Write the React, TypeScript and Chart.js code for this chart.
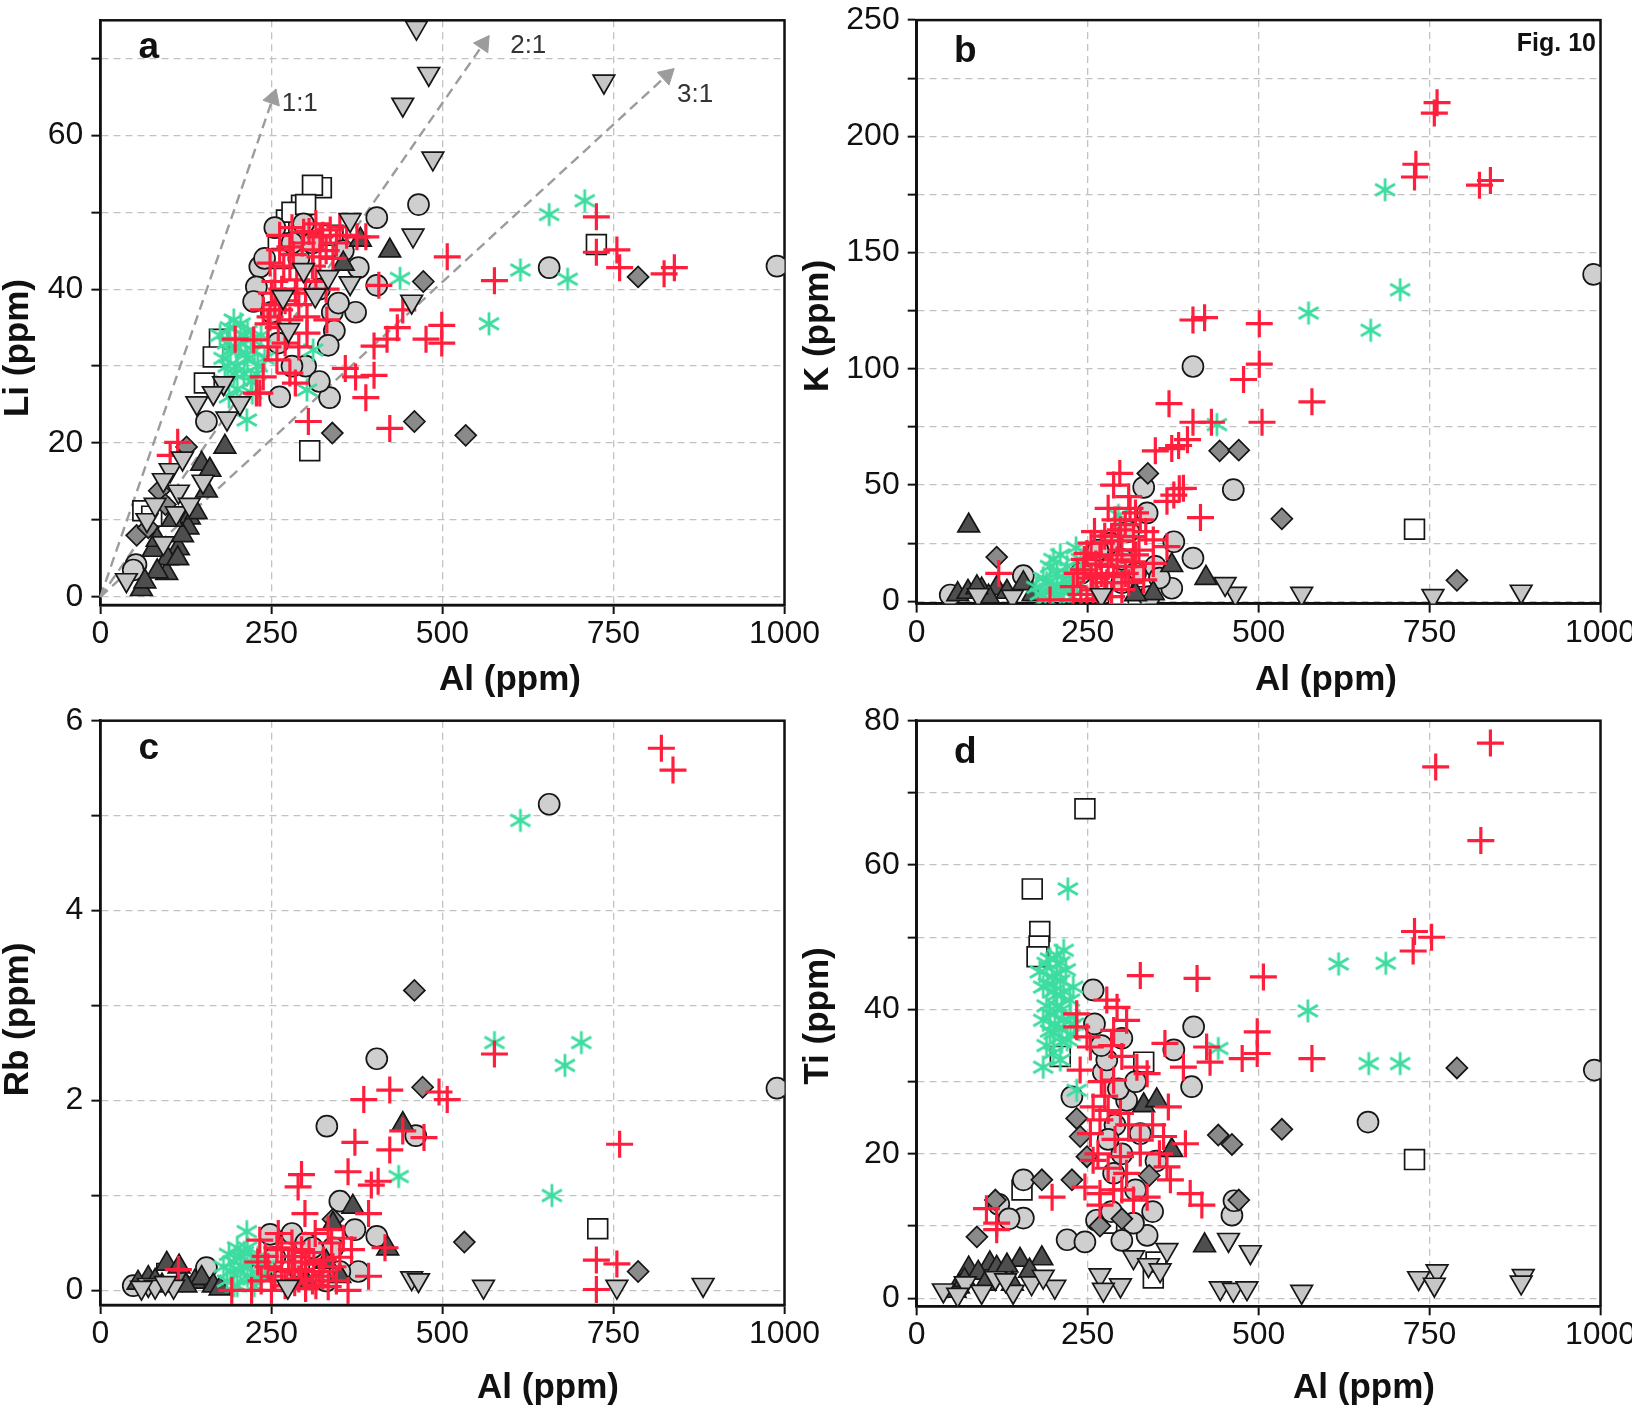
import React, { useEffect, useRef } from 'react';
import { Chart, registerables } from 'chart.js';

Chart.register(...registerables);

type P = [number, number];

// ---------- axis ticks ----------
const alTicks = [0, 250, 500, 750, 1000];
const liTicks = [0, 10, 20, 30, 40, 50, 60, 70];
const liLabels = [0, 20, 40, 60];
const kTicks = [0, 25, 50, 75, 100, 125, 150, 175, 200, 225, 250];
const kLabels = [0, 50, 100, 150, 200, 250];
const rbTicks = [0, 1, 2, 3, 4, 5, 6];
const rbLabels = [0, 2, 4, 6];
const tiTicks = [0, 10, 20, 30, 40, 50, 60, 70, 80];
const tiLabels = [0, 20, 40, 60, 80];

// ---------- panel a : Li vs Al ----------
const aSquare: P[] = [[323, 53.2], [310, 53.5], [294, 50.9], [272, 49], [272, 47.5], [290, 48], [340, 47], [260, 46], [280, 50], [300, 51], [265, 44], [725, 45.8], [306, 19], [174, 33.5], [165, 31.2], [152, 27.8], [62, 11.2], [75, 10.5]];
const aCircle: P[] = [[465, 51], [404, 49.3], [989, 43], [656, 42.8], [339, 37], [373, 37], [342, 34.6], [335, 25.9], [262, 26], [155, 22.8], [404, 40.5], [377, 42.8], [233, 42.9], [228, 40.3], [348, 38.2], [333, 32.7], [297, 48.5], [224, 38.4], [52, 4.2], [48, 3.5], [290, 44], [310, 46], [250, 37], [300, 30], [320, 28], [240, 44], [255, 48], [280, 46], [320, 40], [260, 33], [280, 30], [355, 45]];
const aDownTri: P[] = [[462, 74], [480, 68], [442, 64], [736, 67], [486, 57], [457, 47], [365, 49], [297, 42.5], [333, 41.6], [365, 40.8], [267, 39], [314, 39.2], [455, 38.4], [275, 34.7], [180, 27.8], [165, 26.5], [141, 25.2], [204, 25.2], [185, 23.2], [102, 16.5], [114, 13.7], [150, 15], [92, 15.2], [68, 10], [111, 10.9], [92, 7], [38, 2.2], [120, 18], [80, 12], [130, 12]];
const aUpTri: P[] = [[423, 45], [380, 46.4], [355, 43.3], [182, 19.5], [148, 17.3], [160, 16.5], [155, 13.8], [130, 10.3], [128, 9], [114, 6.3], [77, 6.1], [97, 3.1], [60, 1], [83, 7.4], [98, 5], [113, 5], [83, 3.3], [65, 2], [140, 11], [120, 8], [105, 10]];
const aDiamond: P[] = [[472, 41], [786, 41.6], [534, 21], [459, 22.8], [339, 21.3], [126, 19.5], [86, 13.8], [53, 8], [95, 12], [70, 9]];
const aCross: P[] = [[725, 49.4], [725, 44.8], [755, 45.1], [759, 42.8], [824, 42], [839, 42.8], [507, 44.2], [576, 41.1], [407, 40.5], [442, 37.3], [434, 35], [419, 33.5], [400, 32.6], [476, 33.5], [499, 35.3], [499, 33], [358, 29.7], [373, 28.6], [388, 25.9], [400, 28.8], [423, 21.9], [304, 22.8], [113, 20.1], [102, 18.4], [228, 26.5], [197, 33.5], [388, 46.8], [297, 47.4], [321, 46.8], [336, 47.7], [350, 48.1], [375, 46.8], [277, 45.5], [262, 45.1], [248, 43.4], [277, 42.9], [311, 45.1], [321, 44.2], [287, 41.2], [238, 37.3], [248, 36.4], [262, 37.3], [277, 36], [302, 36.4], [331, 36], [302, 34.3], [224, 33.4], [245, 32.5], [258, 30.8], [238, 28.6], [277, 29.1], [285, 27.8], [233, 26.5], [255, 38], [265, 40], [290, 38], [310, 43], [330, 45], [340, 44], [255, 41], [268, 43], [282, 44.5], [295, 46], [305, 47.5], [315, 48.5], [325, 47], [345, 46], [360, 47], [250, 39.5], [270, 38.5], [285, 39.5], [300, 40], [245, 35.5], [260, 35], [270, 33], [290, 32.5], [315, 41], [330, 40], [262, 47], [280, 48]];
const aStar: P[] = [[708, 51.5], [656, 49.7], [614, 42.5], [683, 41.3], [568, 35.5], [438, 41.4], [311, 32.1], [302, 26.9], [214, 23], [189, 35], [180, 31], [190, 32], [200, 30], [205, 33], [210, 29], [215, 31], [220, 28], [195, 29], [185, 33], [225, 32], [230, 30], [200, 27], [210, 34], [235, 34], [175, 34], [182, 28], [188, 26], [195, 36], [205, 35.5], [215, 34.5], [220, 33.5], [228, 29], [240, 31], [198, 32.5], [212, 31.5], [186, 30], [222, 26.5]];
const ratioEnds: P[] = [[252, 64.8], [560, 71.9], [828, 67.8]];
const ratioNames = ['1:1', '2:1', '3:1'];
const ratioLabelPos: P[] = [[265, 63.1], [599, 70.7], [843, 64.3]];

// ---------- panel b : K vs Al ----------
const bSquare: P[] = [[728, 31], [320, 2], [295, 1]];
const bCircle: P[] = [[990, 140.6], [404, 101], [463, 48], [332, 49], [404, 18.6], [376, 25.6], [373, 5.6], [349, 15], [156, 11], [49, 2.7], [337, 38], [283, 25], [300, 18], [320, 12], [260, 20], [310, 30], [240, 12], [300, 8], [340, 2], [265, 22], [355, 10]];
const bDownTri: P[] = [[466, 3.3], [451, 7.5], [563, 3.3], [755, 2.3], [884, 4.2], [270, 2.7], [90, 2.7], [140, 2]];
const bUpTri: P[] = [[76, 32.5], [423, 10], [373, 15.5], [60, 3], [75, 4], [95, 5], [117, 5.6], [132, 4], [156, 7.7], [346, 3.4], [105, 2], [170, 3], [88, 6], [320, 3]];
const bDiamond: P[] = [[338, 55], [443, 64.7], [471, 65], [534, 35.5], [790, 9], [117, 19]];
const bCross: P[] = [[761, 214.5], [757, 210], [730, 188], [728, 182.5], [823, 179], [839, 181], [421, 122], [404, 121], [501, 119.4], [501, 102], [478, 95.4], [578, 85.8], [505, 77], [369, 85], [404, 77], [431, 77], [396, 69.5], [373, 65.7], [349, 64.7], [415, 36], [384, 48.4], [366, 43], [297, 55], [288, 50], [280, 40], [383, 67], [390, 48.6], [376, 45.7], [312, 40], [327, 35], [298, 30.7], [317, 27.8], [346, 26.4], [366, 23.5], [249, 20.6], [268, 19.2], [293, 17.8], [244, 13.5], [263, 10.6], [288, 10.6], [317, 14.9], [332, 9.2], [229, 6.3], [258, 4.9], [195, 0.6], [229, 0.6], [249, 0.5], [120, 12], [346, 16.3], [270, 25], [300, 22], [320, 20], [280, 15], [305, 33], [255, 10], [275, 5], [310, 8], [235, 12], [245, 18], [255, 25], [262, 16], [270, 12], [278, 8], [285, 20], [295, 26], [305, 12], [315, 17], [325, 22], [335, 30], [240, 3], [265, 1], [285, 2], [300, 5], [320, 38], [310, 45], [290, 35], [275, 28], [260, 30], [285, 28]];
const bStar: P[] = [[685, 177], [707, 134], [573, 124], [664, 116.6], [439, 76], [295, 37], [233, 23], [180, 3], [190, 8], [200, 5], [205, 12], [210, 2], [215, 9], [220, 15], [195, 15], [185, 10], [225, 6], [200, 18], [210, 20], [230, 10], [240, 18], [215, 4], [175, 6], [188, 1], [205, 7], [218, 12], [228, 2], [195, 4], [235, 8], [245, 13]];

// ---------- panel c : Rb vs Al ----------
const cSquare: P[] = [[727, 0.65], [97, 0.18]];
const cCircle: P[] = [[656, 5.12], [404, 2.44], [331, 1.73], [461, 1.63], [989, 2.13], [350, 0.94], [372, 0.64], [404, 0.57], [377, 0.2], [155, 0.24], [48, 0.05], [248, 0.59], [280, 0.6], [300, 0.5], [320, 0.35], [265, 0.1], [340, 0.45], [330, 0.1], [255, 0.35], [290, 0.25], [310, 0.45], [350, 0.2], [235, 0.2]];
const cDownTri: P[] = [[274, 0.04], [455, 0.13], [465, 0.11], [560, 0.04], [755, 0.04], [881, 0.06], [70, 0.06], [80, 0.04], [107, 0.04], [95, 0.08], [60, 0.03]];
const cUpTri: P[] = [[442, 1.75], [420, 0.44], [369, 0.88], [70, 0.13], [97, 0.28], [138, 0.09], [148, 0.13], [55, 0.08], [80, 0.1], [115, 0.25], [125, 0.05], [165, 0.05], [90, 0.05], [340, 0.7], [300, 0.1], [330, 0.3], [350, 0.15], [175, 0.02]];
const cDiamond: P[] = [[459, 3.16], [471, 2.14], [532, 0.51], [786, 0.2], [340, 0.75], [120, 0.1]];
const cCross: P[] = [[820, 5.71], [837, 5.48], [576, 2.49], [495, 2.09], [507, 2.01], [423, 2.11], [385, 2.01], [759, 1.54], [473, 1.61], [372, 1.56], [423, 1.48], [442, 1.68], [294, 1.22], [289, 1.09], [362, 1.25], [406, 1.15], [396, 1.11], [392, 0.81], [299, 0.81], [416, 0.45], [725, 0.32], [755, 0.28], [725, 0.01], [233, 0.53], [314, 0.6], [333, 0.64], [367, 0.43], [392, 0.15], [192, 0.0], [221, 0.0], [250, 0.0], [284, 0.08], [333, 0.04], [362, 0.0], [241, 0.36], [265, 0.43], [284, 0.36], [294, 0.43], [326, 0.32], [114, 0.22], [265, 0.22], [294, 0.22], [310, 0.1], [275, 0.3], [255, 0.15], [300, 0.3], [320, 0.2], [340, 0.25], [245, 0.25], [258, 0.45], [270, 0.05], [280, 0.5], [290, 0.12], [305, 0.4], [315, 0.05], [325, 0.15], [345, 0.1], [350, 0.35], [235, 0.1], [260, 0.6], [280, 0.2], [300, 0.02], [312, 0.28], [338, 0.5], [355, 0.55], [230, 0.3]];
const cStar: P[] = [[614, 4.95], [576, 2.61], [679, 2.37], [703, 2.61], [436, 1.2], [660, 1.0], [214, 0.62], [185, 0.1], [195, 0.3], [200, 0.05], [205, 0.2], [210, 0.4], [215, 0.15], [220, 0.3], [225, 0.05], [190, 0.2], [230, 0.35], [200, 0.45], [235, 0.15], [210, 0.25], [180, 0.25], [195, 0.05], [205, 0.35], [215, 0.45], [222, 0.12], [240, 0.25], [188, 0.38]];

// ---------- panel d : Ti vs Al ----------
const dSquare: P[] = [[246, 67.8], [169, 56.7], [180, 50.8], [179, 48.8], [176, 47.3], [728, 19.2], [210, 33.5], [332, 32.7], [154, 15], [346, 2.8], [278, 10.4], [350, 5]];
const dCircle: P[] = [[991, 31.6], [660, 24.4], [405, 37.6], [402, 29.3], [376, 34.4], [461, 11.5], [464, 13.5], [156, 16.4], [156, 11.1], [220, 8.1], [246, 7.8], [337, 8.7], [263, 10.8], [258, 42.7], [273, 31.3], [227, 27.9], [317, 10.4], [288, 17.3], [327, 22.8], [307, 27.4], [278, 33], [120, 13], [135, 11], [300, 20], [290, 24], [320, 15], [345, 12], [280, 22], [270, 35], [300, 36], [295, 29], [260, 38], [320, 30], [285, 12], [300, 8], [350, 19]];
const dDownTri: P[] = [[887, 3.1], [884, 2.2], [734, 2.8], [761, 3.75], [757, 1.9], [563, 0.9], [456, 8.1], [488, 6.4], [444, 1.4], [463, 1.2], [483, 1.4], [317, 5.7], [366, 6.7], [268, 3.2], [298, 1.8], [273, 1.2], [339, 4.6], [356, 3.9], [39, 1.1], [71, 2.1], [95, 0.9], [115, 2.8], [141, 0.9], [168, 2.1], [202, 1.6], [185, 3], [130, 2.5], [60, 0.5]];
const dUpTri: P[] = [[421, 7.3], [332, 26.7], [351, 27.4], [373, 20.5], [76, 4.1], [107, 4.8], [117, 4.2], [151, 5.3], [183, 5.5], [61, 1.6], [56, 1.0], [132, 4.5], [90, 3.5], [165, 3.8], [100, 2], [70, 2.5], [140, 2]];
const dDiamond: P[] = [[790, 31.9], [534, 23.4], [441, 22.6], [461, 21.3], [471, 13.6], [88, 8.5], [115, 13.6], [183, 16.4], [227, 16.4], [234, 24.9], [239, 22.4], [249, 19.6], [268, 10], [300, 11], [340, 17]];
const dCross: P[] = [[839, 76.9], [759, 73.6], [825, 63.4], [728, 50.8], [753, 50], [726, 48.1], [327, 44.7], [410, 44.3], [507, 44.5], [498, 36.9], [498, 33.9], [578, 33.2], [476, 33.2], [429, 32.7], [424, 34.8], [390, 32], [363, 35.3], [278, 41.3], [293, 40.3], [234, 39.4], [234, 37.6], [249, 36.2], [288, 37.1], [307, 38.5], [254, 34.8], [239, 31.6], [322, 32], [337, 31.1], [288, 30.2], [368, 26.5], [258, 26.5], [268, 24.7], [298, 25.6], [254, 22.8], [327, 21.9], [361, 22.4], [393, 21.4], [258, 19.1], [298, 19.6], [327, 20.1], [366, 18.2], [371, 16.4], [400, 14.5], [417, 12.9], [198, 14], [246, 15.4], [268, 14.5], [268, 12.9], [288, 15], [317, 13.6], [337, 14], [102, 12.4], [117, 10.4], [117, 9.5], [307, 17.3], [275, 28], [265, 20], [285, 35], [300, 33.5], [270, 30], [280, 26], [290, 22], [310, 24], [345, 24], [355, 20], [300, 15], [280, 18]];
const dStar: P[] = [[221, 56.7], [617, 46.3], [686, 46.4], [572, 39.8], [661, 32.5], [707, 32.5], [185, 32], [441, 34.6], [215, 48.2], [190, 46.4], [210, 44], [185, 43.1], [204, 42], [224, 41.3], [195, 39.4], [215, 38.6], [200, 36.7], [220, 35.8], [190, 40.5], [229, 43.1], [180, 45.2], [234, 28.8], [205, 45], [198, 44.5], [212, 40], [208, 37.5], [200, 34], [195, 47], [205, 47.5], [210, 46.5], [200, 42.5], [215, 42.5], [225, 39], [205, 40.5], [195, 37], [212, 35.5], [185, 38.5], [230, 38], [218, 45.5], [192, 43.5], [202, 38], [225, 36.5], [210, 33], [190, 35]];

// ---------- styles ----------
const FONT = "'Liberation Sans', Arial, Helvetica, sans-serif";
const RED = '#ff1f3d';
const GREEN = '#3edca0';
const EDGE = '#161616';

function makeStar(): HTMLCanvasElement {
  const c = document.createElement('canvas');
  const s = 28;
  c.width = s;
  c.height = s;
  const g = c.getContext('2d')!;
  g.strokeStyle = GREEN;
  g.lineWidth = 2.8;
  const r = 11.5;
  for (let k = 0; k < 3; k++) {
    const a = Math.PI / 2 + (k * Math.PI) / 3;
    g.beginPath();
    g.moveTo(s / 2 + r * Math.cos(a), s / 2 + r * Math.sin(a));
    g.lineTo(s / 2 - r * Math.cos(a), s / 2 - r * Math.sin(a));
    g.stroke();
  }
  return c;
}

const pts = (a: P[]) => a.map(([x, y]) => ({ x, y }));

type TextItem = { text: string; x: number; y: number; font: string; align?: CanvasTextAlign; rot?: boolean; color?: string; data?: boolean };

interface Spec {
  w: number; h: number; left: number; top: number;
  area: { left: number; top: number; right: number; bottom: number };
  yMin: number; yMax: number; yTicks: number[]; yLabels: number[];
  series: { square: P[]; circle: P[]; downTri: P[]; upTri: P[]; diamond: P[]; cross: P[]; star: P[] };
  texts: TextItem[];
  arrows?: boolean;
}

const annotPlugin = {
  id: 'annot',
  beforeDatasetsDraw(chart: any) {
    const a = chart.chartArea;
    const ctx = chart.ctx;
    ctx.save();
    ctx.strokeStyle = '#111';
    ctx.lineWidth = 2.5;
    ctx.strokeRect(a.left, a.top, a.right - a.left, a.bottom - a.top);
    ctx.restore();
  },
  afterDraw(chart: any, _args: any, opts: any) {
    const ctx = chart.ctx;
    const items: TextItem[] = opts.items || [];
    for (const t of items) {
      ctx.save();
      ctx.font = t.font;
      ctx.fillStyle = t.color || '#111';
      ctx.textAlign = t.align || 'left';
      ctx.textBaseline = 'alphabetic';
      let x = t.x, y = t.y;
      if (t.data) {
        x = chart.scales.x.getPixelForValue(t.x);
        y = chart.scales.y.getPixelForValue(t.y);
      }
      if (t.rot) {
        ctx.translate(x, y);
        ctx.rotate(-Math.PI / 2);
        ctx.fillText(t.text, 0, 0);
      } else {
        ctx.fillText(t.text, x, y);
      }
      ctx.restore();
    }
  },
};

function buildConfig(spec: Spec, star: HTMLCanvasElement): any {
  const s = spec.series;
  const mk = (label: string, data: P[], style: any, r: number, bg: string, order: number, rot = 0) => ({
    type: 'scatter', label, data: pts(data), pointStyle: style, pointRadius: r, pointHoverRadius: r,
    pointBackgroundColor: bg, pointBorderColor: EDGE, pointBorderWidth: 1.7, pointRotation: rot, order, showLine: false,
  });
  const datasets: any[] = [
    mk('squares', s.square, 'rect', 14, '#ffffff', 7),
    mk('circles', s.circle, 'circle', 10.5, '#cfcfcf', 6),
    mk('diamonds', s.diamond, 'rectRot', 10.5, '#8a8a8a', 5),
    mk('dark triangles', s.upTri, 'triangle', 12.5, '#4e4e4e', 4),
    { type: 'scatter', label: 'asterisks', data: pts(s.star), pointStyle: star, pointRadius: 12, order: 3, showLine: false },
    { type: 'scatter', label: 'crosses', data: pts(s.cross), pointStyle: 'cross', pointRadius: 13.5, pointBorderColor: RED, pointBackgroundColor: RED, pointBorderWidth: 3.2, order: 2, showLine: false },
    mk('light triangles', s.downTri, 'triangle', 12.5, '#c6c6c6', 1, 180),
  ];
  if (spec.arrows) {
    ratioEnds.forEach(([ex, ey], i) => {
      datasets.push({
        type: 'scatter', label: ratioNames[i], data: [{ x: 0, y: 0 }, { x: ex, y: ey }], showLine: true,
        borderColor: '#9c9c9c', borderWidth: 2.4, borderDash: [10, 6], pointStyle: 'triangle',
        pointRadius: [0, 10], pointBackgroundColor: '#9c9c9c', pointBorderColor: '#9c9c9c', pointBorderWidth: 1,
        pointRotation: (c: any) => {
          const xs = c.chart.scales.x, ys = c.chart.scales.y;
          const dx = xs.getPixelForValue(ex) - xs.getPixelForValue(0);
          const dy = ys.getPixelForValue(ey) - ys.getPixelForValue(0);
          return (Math.atan2(dx, -dy) * 180) / Math.PI;
        },
        order: 10, clip: false,
      });
    });
  }
  const a = spec.area;
  const tickFont = { family: FONT, size: 32 };
  const gridBase = { color: '#c2c2c2', lineWidth: 1.3, drawTicks: true, tickLength: 9, tickColor: '#111', tickWidth: 2 };
  return {
    type: 'scatter',
    data: { datasets },
    plugins: [annotPlugin],
    options: {
      animation: false, responsive: false, devicePixelRatio: 1, events: [],
      layout: { padding: { left: 0, top: a.top, right: spec.w - a.right, bottom: 0 } },
      plugins: { legend: { display: false }, tooltip: { enabled: false }, annot: { items: spec.texts } },
      scales: {
        x: {
          type: 'linear', min: 0, max: 1000,
          afterBuildTicks: (sc: any) => { sc.ticks = alTicks.map((v) => ({ value: v })); },
          afterFit: (sc: any) => { sc.height = spec.h - a.bottom; sc.paddingLeft = 0; sc.paddingRight = 0; },
          ticks: { font: tickFont, color: '#111', padding: 1, maxRotation: 0, autoSkip: false, callback: (v: number) => String(v) },
          grid: gridBase,
          border: { display: true, color: '#111', width: 2.5, dash: [7, 5] },
        },
        y: {
          type: 'linear', min: spec.yMin, max: spec.yMax,
          afterBuildTicks: (sc: any) => { sc.ticks = spec.yTicks.map((v) => ({ value: v })); },
          afterFit: (sc: any) => { sc.width = a.left; sc.paddingTop = 0; sc.paddingBottom = 0; },
          ticks: { font: tickFont, color: '#111', padding: 8, autoSkip: false, callback: (v: number) => (spec.yLabels.includes(v) ? String(v) : '') },
          grid: gridBase,
          border: { display: true, color: '#111', width: 2.5, dash: [7, 5] },
        },
      },
    },
  };
}

const TITLE = `bold 35px ${FONT}`;
const LETTER = `bold 37px ${FONT}`;
const RL = 790; // left edge of right-column canvases

const specs: Spec[] = [
  {
    w: 830, h: 704, left: 0, top: 0,
    area: { left: 100.4, top: 20.3, right: 784.5, bottom: 605 },
    yMin: -1.05, yMax: 74.95, yTicks: liTicks, yLabels: liLabels,
    series: { square: aSquare, circle: aCircle, downTri: aDownTri, upTri: aUpTri, diamond: aDiamond, cross: aCross, star: aStar },
    arrows: true,
    texts: [
      { text: 'a', x: 138.6, y: 58, font: LETTER },
      { text: 'Al (ppm)', x: 510, y: 690, font: TITLE, align: 'center' },
      { text: 'Li (ppm)', x: 28, y: 348, font: TITLE, align: 'center', rot: true },
      ...ratioNames.map((n, i) => ({ text: n, x: ratioLabelPos[i][0], y: ratioLabelPos[i][1], font: `26px ${FONT}`, color: '#333', data: true })),
    ],
  },
  {
    w: 1632 - RL, h: 704, left: RL, top: 0,
    area: { left: 916.7 - RL, top: 20.1, right: 1600.5 - RL, bottom: 603.6 },
    yMin: -1, yMax: 250, yTicks: kTicks, yLabels: kLabels,
    series: { square: bSquare, circle: bCircle, downTri: bDownTri, upTri: bUpTri, diamond: bDiamond, cross: bCross, star: bStar },
    texts: [
      { text: 'b', x: 954 - RL, y: 62, font: LETTER },
      { text: 'Fig. 10', x: 1596 - RL, y: 51, font: `bold 25px ${FONT}`, align: 'right' },
      { text: 'Al (ppm)', x: 1326 - RL, y: 690, font: TITLE, align: 'center' },
      { text: 'K (ppm)', x: 828 - RL, y: 326, font: TITLE, align: 'center', rot: true },
    ],
  },
  {
    w: 830, h: 704, left: 0, top: 704,
    area: { left: 100.4, top: 16.3, right: 784.5, bottom: 601 },
    yMin: -0.153, yMax: 6.0, yTicks: rbTicks, yLabels: rbLabels,
    series: { square: cSquare, circle: cCircle, downTri: cDownTri, upTri: cUpTri, diamond: cDiamond, cross: cCross, star: cStar },
    texts: [
      { text: 'c', x: 138.6, y: 54.7, font: LETTER },
      { text: 'Al (ppm)', x: 548, y: 693.5, font: TITLE, align: 'center' },
      { text: 'Rb (ppm)', x: 28, y: 315.5, font: TITLE, align: 'center', rot: true },
    ],
  },
  {
    w: 1632 - RL, h: 704, left: RL, top: 704,
    area: { left: 916.7 - RL, top: 16.3, right: 1600.5 - RL, bottom: 602.3 },
    yMin: -1.12, yMax: 80, yTicks: tiTicks, yLabels: tiLabels,
    series: { square: dSquare, circle: dCircle, downTri: dDownTri, upTri: dUpTri, diamond: dDiamond, cross: dCross, star: dStar },
    texts: [
      { text: 'd', x: 954 - RL, y: 59, font: LETTER },
      { text: 'Al (ppm)', x: 1364 - RL, y: 693.5, font: TITLE, align: 'center' },
      { text: 'Ti (ppm)', x: 828 - RL, y: 312, font: TITLE, align: 'center', rot: true },
    ],
  },
];

function Panel({ spec }: { spec: Spec }) {
  const ref = useRef<HTMLCanvasElement>(null);
  useEffect(() => {
    const chart = new Chart(ref.current!, buildConfig(spec, makeStar()));
    return () => chart.destroy();
  }, [spec]);
  return (
    <canvas
      ref={ref}
      width={spec.w}
      height={spec.h}
      style={{ position: 'absolute', left: spec.left, top: spec.top, width: spec.w, height: spec.h }}
    />
  );
}

export default function App() {
  return (
    <div style={{ position: 'absolute', left: 0, top: 0, width: 1632, height: 1408, background: '#ffffff', overflow: 'hidden' }}>
      {specs.map((s, i) => (
        <Panel key={i} spec={s} />
      ))}
    </div>
  );
}
